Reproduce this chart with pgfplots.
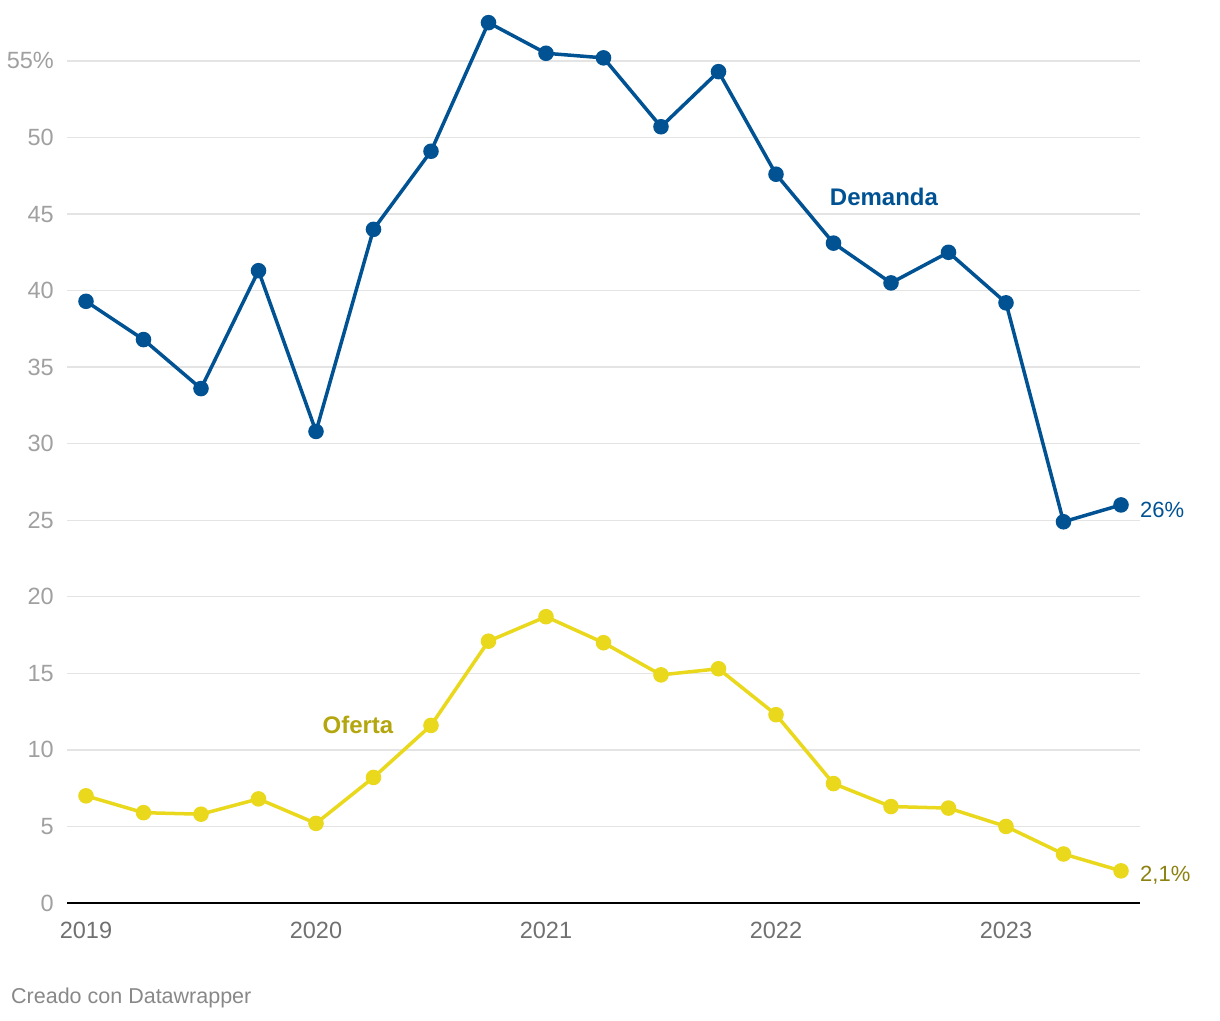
\documentclass[border=0pt]{standalone}
\usepackage{pgfplots}
\pgfplotsset{compat=1.18}
\usepackage{fontspec}
\setmainfont{Liberation Sans}
\definecolor{dblue}{RGB}{0,82,147}
\definecolor{oyel}{RGB}{233,216,28}
\definecolor{olab}{RGB}{179,166,14}
\definecolor{olab2}{RGB}{140,129,16}
\definecolor{gridgray}{RGB}{228,228,228}
\definecolor{ygray}{RGB}{160,160,160}
\definecolor{xgray}{RGB}{112,112,112}
\definecolor{footgray}{RGB}{136,136,136}
\begin{document}
\begin{tikzpicture}[x=1pt,y=1pt]
\begin{axis}[scale only axis,
  width=1073pt, height=888pt,
  xmin=-0.3304, xmax=18.3304, ymin=0, ymax=58,
  ytick={0,5,10,15,20,25,30,35,40,45,50,55},
  yticklabels={0,5,10,15,20,25,30,35,40,45,50,55\%},
  xtick={0,4,8,12,16},
  xticklabels={2019,2020,2021,2022,2023},
  ymajorgrids, grid style={color=gridgray, line width=1.3pt},
  axis line style={draw=none}, major tick length=0pt,
  tick label style={font=\fontsize{23.5}{25}\selectfont},
  yticklabel style={text=ygray, anchor=east, inner sep=0pt, xshift=-13pt},
  xticklabel style={text=xgray, anchor=north, inner sep=0pt, yshift=-19pt},
  clip=false]
\coordinate (sw) at (rel axis cs:0,0);
\draw[black, line width=2pt] (rel axis cs:0,0) -- (rel axis cs:1,0);
\addplot[color=dblue, line width=3.5pt, mark=*, mark size=6pt, mark options={fill=dblue, draw=none}] coordinates {
(0,39.3) (1,36.8) (2,33.6) (3,41.3)
(4,30.8) (5,44.0) (6,49.1) (7,57.5)
(8,55.5) (9,55.2) (10,50.7) (11,54.3)
(12,47.6) (13,43.1) (14,40.5) (15,42.5)
(16,39.2) (17,24.9) (18,26.0)};
\addplot[color=oyel, line width=3.5pt, mark=*, mark size=6pt, mark options={fill=oyel, draw=none}] coordinates {
(0,7.0) (1,5.9) (2,5.8) (3,6.8)
(4,5.2) (5,8.2) (6,11.6) (7,17.1)
(8,18.7) (9,17.0) (10,14.9) (11,15.3)
(12,12.3) (13,7.8) (14,6.3) (15,6.2)
(16,5.0) (17,3.2) (18,2.1)};
\node[text=dblue, font=\bfseries\fontsize{24}{26}\selectfont] at (axis cs:13.878,46.1) {Demanda};
\node[text=olab, font=\bfseries\fontsize{24}{26}\selectfont] at (axis cs:4.730,11.63) {Oferta};
\node[anchor=west, inner sep=0pt, text=dblue, font=\fontsize{22}{24}\selectfont] at (axis cs:18.3304,25.7) {26\%};
\node[anchor=west, inner sep=0pt, text=olab2, font=\fontsize{22}{24}\selectfont] at (axis cs:18.3304,1.8) {2,1\%};
\end{axis}
\pgfresetboundingbox
\path[use as bounding box] (sw) ++(-67,-117) rectangle ++(1220,1020);
\path (sw) ++(-56,-100) node[anchor=base west, inner sep=0pt, text=footgray, font=\fontsize{21.5}{23}\selectfont] {Creado con Datawrapper};
\end{tikzpicture}
\end{document}
